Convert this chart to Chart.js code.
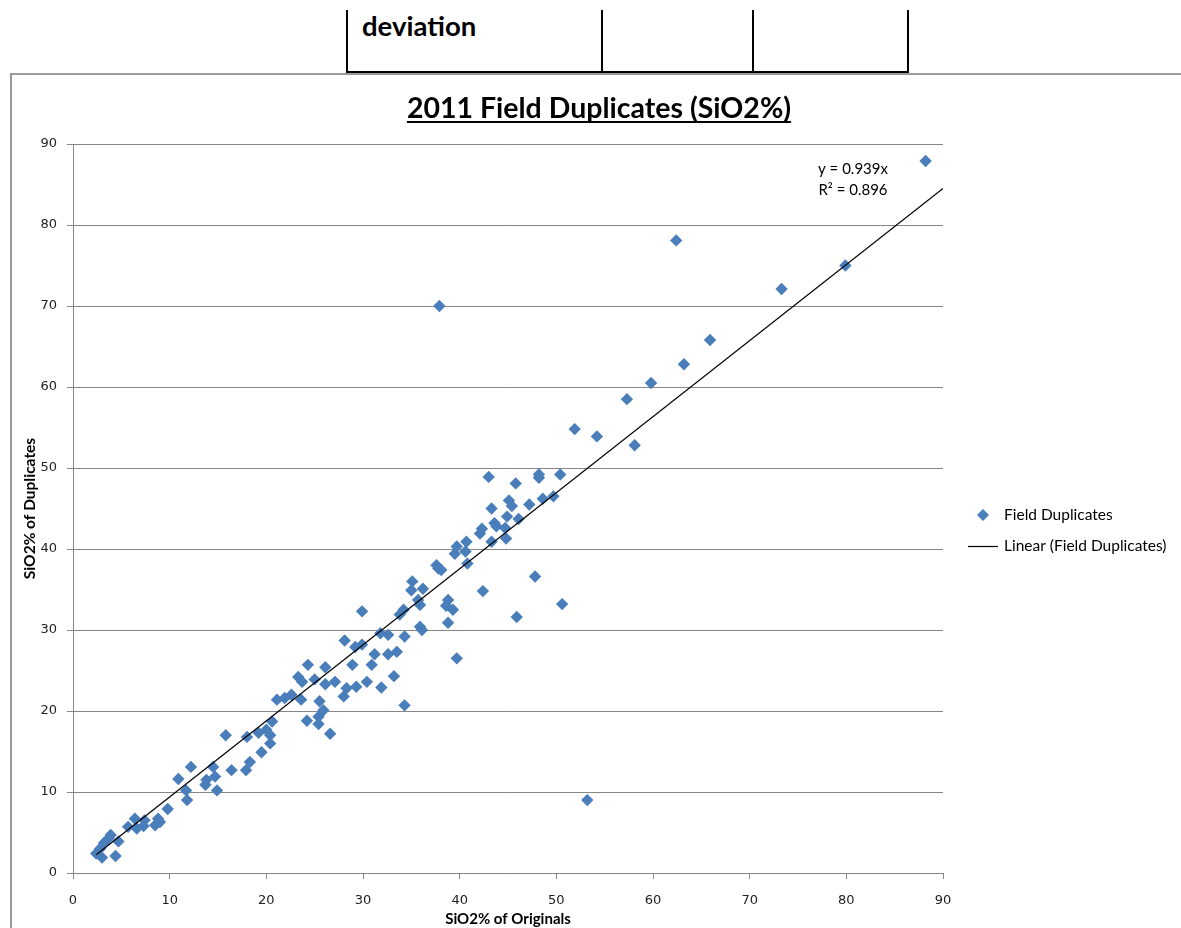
<!DOCTYPE html>
<html>
<head>
<meta charset="utf-8">
<title>2011 Field Duplicates (SiO2%)</title>
<script src="https://cdn.jsdelivr.net/npm/chart.js@4.4.1/dist/chart.umd.min.js"></script>
<style>
  html, body { margin: 0; padding: 0; background: #fff; }
  #page { position: relative; width: 1181px; height: 928px; overflow: hidden; background: #fff; }
  #chart { position: absolute; left: 0; top: 0; }
  .rule { position: absolute; background: #000; }
  .frame { position: absolute; background: #9a9a9a; }
  #cell-text { position: absolute; left: 362px; top: 9px; font: bold 27.5px Lato, "Liberation Sans", sans-serif; color: #000; }
</style>
</head>
<body>
<div id="page">
  <!-- table fragment above the chart -->
  <div class="rule" style="left:346px; top:10px; width:2px; height:63px;"></div>
  <div class="rule" style="left:601px; top:10px; width:2px; height:63px;"></div>
  <div class="rule" style="left:752px; top:10px; width:2px; height:63px;"></div>
  <div class="rule" style="left:907px; top:10px; width:2px; height:63px;"></div>
  <div class="rule" style="left:346px; top:71px; width:563px; height:3px;"></div>
  <div id="cell-text">deviation</div>
  <!-- chart object frame -->
  <div class="frame" style="left:10px; top:73px; width:1171px; height:2px;"></div>
  <div class="frame" style="left:10px; top:73px; width:2px; height:855px;"></div>
  <canvas id="chart" width="1181" height="928"></canvas>
</div>
<script>
// SiO2% of the original samples
const originals = [
  2.4, 2.8, 3.0, 3.2, 3.7, 3.9, 4.4, 4.7, 5.7, 6.4,
  6.6, 7.3, 7.4, 8.5, 8.8, 9.0, 9.8, 10.9, 11.7, 11.8,
  12.2, 13.7, 13.8, 14.5, 14.7, 14.9, 15.8, 16.4, 17.9, 18.0,
  18.3, 19.2, 19.5, 20.0, 20.4, 20.4, 20.6, 21.1, 21.9, 22.6,
  23.3, 23.7, 23.6, 24.2, 24.3, 25.0, 25.4, 25.4, 25.5, 25.9,
  26.1, 26.1, 26.6, 27.1, 28.0, 28.1, 28.3, 28.9, 29.2, 29.3,
  29.9, 29.9, 30.4, 30.9, 31.2, 31.8, 31.9, 32.6, 32.6, 33.2,
  33.5, 33.8, 34.2, 34.3, 34.3, 35.0, 35.1, 35.7, 35.9, 35.9,
  36.1, 36.2, 37.6, 37.9, 38.1, 37.8, 38.6, 38.8, 38.8, 39.3,
  39.5, 39.7, 39.7, 40.6, 40.7, 40.8, 42.1, 42.3, 42.4, 43.0,
  43.3, 43.3, 43.6, 43.8, 44.7, 44.8, 44.9, 45.1, 45.4, 45.8,
  45.9, 46.1, 47.2, 47.8, 48.2, 48.2, 48.6, 49.7, 50.4, 50.6,
  51.9, 53.2, 54.2, 57.3, 58.1, 59.8, 62.4, 63.2, 65.9, 73.3,
  79.9, 88.2
];
// SiO2% of the field duplicates, same order
const duplicates = [
  2.4, 3.0, 1.9, 3.7, 4.3, 4.7, 2.1, 3.9, 5.7, 6.7,
  5.5, 5.8, 6.5, 5.9, 6.7, 6.3, 7.9, 11.6, 10.2, 9.0,
  13.1, 10.9, 11.5, 13.1, 11.9, 10.2, 17.0, 12.7, 12.7, 16.8,
  13.7, 17.3, 14.9, 17.7, 17.0, 16.0, 18.7, 21.4, 21.6, 22.0,
  24.2, 23.6, 21.4, 18.8, 25.7, 23.9, 19.3, 18.4, 21.2, 20.1,
  25.4, 23.3, 17.2, 23.6, 21.8, 28.7, 22.8, 25.7, 27.9, 23.0,
  28.2, 32.3, 23.6, 25.7, 27.0, 29.6, 22.9, 29.4, 27.0, 24.3,
  27.3, 31.9, 32.5, 29.2, 20.7, 34.9, 36.0, 33.7, 33.1, 30.4,
  30.0, 35.1, 38.0, 70.0, 37.4, 37.6, 33.0, 33.7, 30.9, 32.5,
  39.4, 40.3, 26.5, 39.7, 40.9, 38.2, 41.9, 42.5, 34.8, 48.9,
  45.0, 40.9, 43.2, 42.8, 42.6, 41.3, 44.0, 46.0, 45.3, 48.1,
  31.6, 43.7, 45.5, 36.6, 49.2, 48.8, 46.2, 46.5, 49.2, 33.2,
  54.8, 9.0, 53.9, 58.5, 52.8, 60.5, 78.1, 62.8, 65.8, 72.1,
  75.0, 87.9
];
// linear trend through the origin
const slope = 0.939;
const rSquared = 0.896;
// axis range and tick step (both axes)
const axisMin = 0;
const axisMax = 90;
const axisStep = 10;

const seriesName = 'Field Duplicates';
const trendName = 'Linear (Field Duplicates)';
const chartTitle = '2011 Field Duplicates (SiO2%)';
const xTitle = 'SiO2% of Originals';
const yTitle = 'SiO2% of Duplicates';

const markerColor = '#4a7ebb';
const gridColor = '#868686';
const tickColor = '#222';
const labelFont = 'Lato, "Liberation Sans", sans-serif';

const points = originals.map((x, i) => ({ x: x, y: duplicates[i] }));
const trendStart = Math.min(...originals);
const trendPoints = [
  { x: trendStart, y: slope * trendStart },
  { x: axisMax, y: slope * axisMax }
];

// title, regression label and legend drawn on top of the chart
const decorations = {
  id: 'decorations',
  afterDraw(chart) {
    const ctx = chart.ctx;
    ctx.save();
    // underlined chart title
    ctx.fillStyle = '#000';
    ctx.font = 'bold 28.5px ' + labelFont;
    ctx.textAlign = 'center';
    ctx.textBaseline = 'alphabetic';
    const tx = 599, ty = 118;
    ctx.fillText(chartTitle, tx, ty);
    const tw = ctx.measureText(chartTitle).width;
    ctx.fillRect(tx - tw / 2, ty + 3, tw, 2);

    // trendline equation
    ctx.font = '15px ' + labelFont;
    ctx.textBaseline = 'middle';
    ctx.fillText('y = ' + slope.toFixed(3) + 'x', 853, 169);
    ctx.fillText('R\u00b2 = ' + rSquared.toFixed(3), 853, 190);

    // legend
    ctx.font = '15.5px ' + labelFont;
    ctx.textAlign = 'left';
    ctx.fillStyle = markerColor;
    ctx.beginPath();
    ctx.moveTo(983 - 6, 515);
    ctx.lineTo(983, 515 - 6);
    ctx.lineTo(983 + 6, 515);
    ctx.lineTo(983, 515 + 6);
    ctx.closePath();
    ctx.fill();
    ctx.fillStyle = '#000';
    ctx.fillText(seriesName, 1004, 515);
    ctx.strokeStyle = '#000';
    ctx.lineWidth = 1.2;
    ctx.beginPath();
    ctx.moveTo(968, 546.5);
    ctx.lineTo(998, 546.5);
    ctx.stroke();
    ctx.fillText(trendName, 1004, 546);
    ctx.restore();
  }
};

new Chart(document.getElementById('chart'), {
  type: 'scatter',
  data: {
    datasets: [
      {
        label: seriesName,
        data: points,
        pointStyle: 'rectRot',
        pointRadius: 6.2,
        pointHoverRadius: 6.2,
        backgroundColor: markerColor,
        borderColor: markerColor,
        borderWidth: 0,
        order: 2
      },
      {
        type: 'line',
        label: trendName,
        data: trendPoints,
        borderColor: '#000',
        borderWidth: 1.2,
        pointRadius: 0,
        fill: false,
        order: 1
      }
    ]
  },
  options: {
    responsive: false,
    animation: false,
    layout: { padding: { left: 0, right: 238, top: 144, bottom: 0 } },
    plugins: {
      legend: { display: false },
      title: { display: false },
      tooltip: { enabled: false }
    },
    scales: {
      x: {
        type: 'linear',
        position: 'bottom',
        min: axisMin,
        max: axisMax,
        ticks: {
          stepSize: axisStep,
          color: tickColor,
          padding: 14,
          font: { family: 'DejaVu Sans', size: 13 }
        },
        grid: { drawOnChartArea: false, drawTicks: true, tickLength: 6, color: gridColor },
        border: { color: gridColor, width: 1 },
        title: {
          display: true,
          text: xTitle,
          color: '#000',
          font: { family: labelFont, size: 15, weight: 'bold' },
          padding: { top: 0, bottom: 0 }
        },
        afterFit(scale) { scale.height = 55; }
      },
      y: {
        type: 'linear',
        min: axisMin,
        max: axisMax,
        ticks: {
          stepSize: axisStep,
          color: tickColor,
          padding: 10,
          font: { family: 'DejaVu Sans', size: 13 }
        },
        grid: { drawTicks: true, tickLength: 6, color: gridColor },
        border: { color: gridColor, width: 1 },
        title: {
          display: true,
          text: yTitle,
          color: '#000',
          font: { family: labelFont, size: 15.5, weight: 'bold' },
          padding: { top: 21, bottom: 0 }
        },
        afterFit(scale) { scale.width = 73; }
      }
    }
  },
  plugins: [decorations]
});
</script>
</body>
</html>
